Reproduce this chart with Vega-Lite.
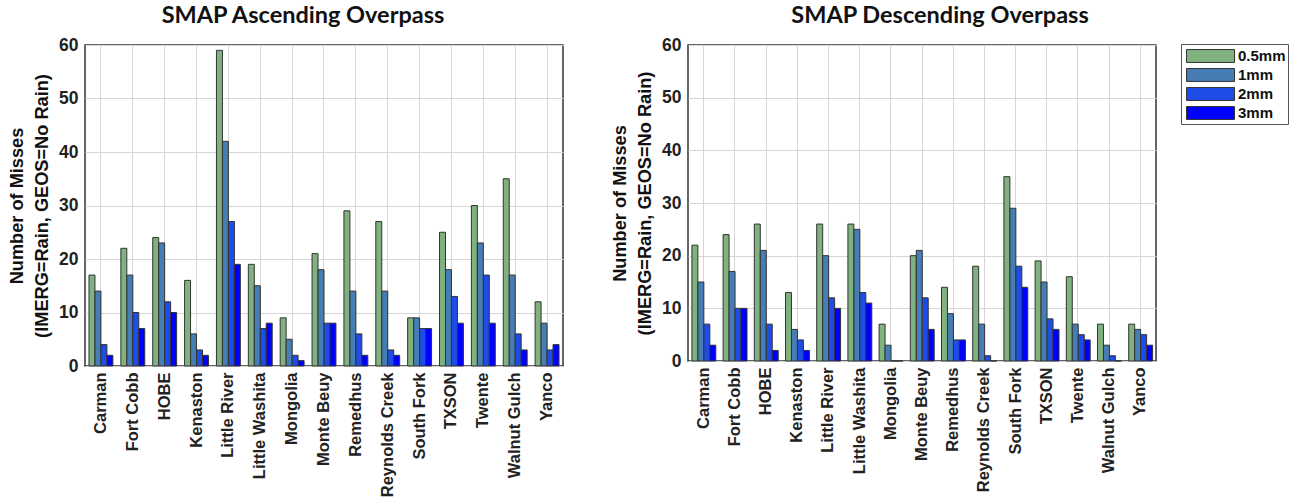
{
  "$schema": "https://vega.github.io/schema/vega-lite/v6.json",
  "background": "white",
  "padding": {"left": 6, "top": 2, "right": 2, "bottom": 0},
  "config": {
    "view": {"stroke": "#333", "strokeWidth": 1.5},
    "axis": {"labelFont": "Liberation Sans", "labelFontWeight": "bold", "labelColor": "#222", "titleFont": "Liberation Sans", "titleFontWeight": "bold", "titleColor": "#111", "gridColor": "#d6d6d6", "gridWidth": 1, "domain": false, "ticks": false},
    "title": {"font": "Lato", "fontWeight": "bold", "fontSize": 23.5, "color": "#111", "offset": 9}
  },
  "data": {"values": [
    {"panel": "A", "site": "Carman", "threshold": "0.5mm", "count": 17},
    {"panel": "A", "site": "Carman", "threshold": "1mm", "count": 14},
    {"panel": "A", "site": "Carman", "threshold": "2mm", "count": 4},
    {"panel": "A", "site": "Carman", "threshold": "3mm", "count": 2},
    {"panel": "A", "site": "Fort Cobb", "threshold": "0.5mm", "count": 22},
    {"panel": "A", "site": "Fort Cobb", "threshold": "1mm", "count": 17},
    {"panel": "A", "site": "Fort Cobb", "threshold": "2mm", "count": 10},
    {"panel": "A", "site": "Fort Cobb", "threshold": "3mm", "count": 7},
    {"panel": "A", "site": "HOBE", "threshold": "0.5mm", "count": 24},
    {"panel": "A", "site": "HOBE", "threshold": "1mm", "count": 23},
    {"panel": "A", "site": "HOBE", "threshold": "2mm", "count": 12},
    {"panel": "A", "site": "HOBE", "threshold": "3mm", "count": 10},
    {"panel": "A", "site": "Kenaston", "threshold": "0.5mm", "count": 16},
    {"panel": "A", "site": "Kenaston", "threshold": "1mm", "count": 6},
    {"panel": "A", "site": "Kenaston", "threshold": "2mm", "count": 3},
    {"panel": "A", "site": "Kenaston", "threshold": "3mm", "count": 2},
    {"panel": "A", "site": "Little River", "threshold": "0.5mm", "count": 59},
    {"panel": "A", "site": "Little River", "threshold": "1mm", "count": 42},
    {"panel": "A", "site": "Little River", "threshold": "2mm", "count": 27},
    {"panel": "A", "site": "Little River", "threshold": "3mm", "count": 19},
    {"panel": "A", "site": "Little Washita", "threshold": "0.5mm", "count": 19},
    {"panel": "A", "site": "Little Washita", "threshold": "1mm", "count": 15},
    {"panel": "A", "site": "Little Washita", "threshold": "2mm", "count": 7},
    {"panel": "A", "site": "Little Washita", "threshold": "3mm", "count": 8},
    {"panel": "A", "site": "Mongolia", "threshold": "0.5mm", "count": 9},
    {"panel": "A", "site": "Mongolia", "threshold": "1mm", "count": 5},
    {"panel": "A", "site": "Mongolia", "threshold": "2mm", "count": 2},
    {"panel": "A", "site": "Mongolia", "threshold": "3mm", "count": 1},
    {"panel": "A", "site": "Monte Beuy", "threshold": "0.5mm", "count": 21},
    {"panel": "A", "site": "Monte Beuy", "threshold": "1mm", "count": 18},
    {"panel": "A", "site": "Monte Beuy", "threshold": "2mm", "count": 8},
    {"panel": "A", "site": "Monte Beuy", "threshold": "3mm", "count": 8},
    {"panel": "A", "site": "Remedhus", "threshold": "0.5mm", "count": 29},
    {"panel": "A", "site": "Remedhus", "threshold": "1mm", "count": 14},
    {"panel": "A", "site": "Remedhus", "threshold": "2mm", "count": 6},
    {"panel": "A", "site": "Remedhus", "threshold": "3mm", "count": 2},
    {"panel": "A", "site": "Reynolds Creek", "threshold": "0.5mm", "count": 27},
    {"panel": "A", "site": "Reynolds Creek", "threshold": "1mm", "count": 14},
    {"panel": "A", "site": "Reynolds Creek", "threshold": "2mm", "count": 3},
    {"panel": "A", "site": "Reynolds Creek", "threshold": "3mm", "count": 2},
    {"panel": "A", "site": "South Fork", "threshold": "0.5mm", "count": 9},
    {"panel": "A", "site": "South Fork", "threshold": "1mm", "count": 9},
    {"panel": "A", "site": "South Fork", "threshold": "2mm", "count": 7},
    {"panel": "A", "site": "South Fork", "threshold": "3mm", "count": 7},
    {"panel": "A", "site": "TXSON", "threshold": "0.5mm", "count": 25},
    {"panel": "A", "site": "TXSON", "threshold": "1mm", "count": 18},
    {"panel": "A", "site": "TXSON", "threshold": "2mm", "count": 13},
    {"panel": "A", "site": "TXSON", "threshold": "3mm", "count": 8},
    {"panel": "A", "site": "Twente", "threshold": "0.5mm", "count": 30},
    {"panel": "A", "site": "Twente", "threshold": "1mm", "count": 23},
    {"panel": "A", "site": "Twente", "threshold": "2mm", "count": 17},
    {"panel": "A", "site": "Twente", "threshold": "3mm", "count": 8},
    {"panel": "A", "site": "Walnut Gulch", "threshold": "0.5mm", "count": 35},
    {"panel": "A", "site": "Walnut Gulch", "threshold": "1mm", "count": 17},
    {"panel": "A", "site": "Walnut Gulch", "threshold": "2mm", "count": 6},
    {"panel": "A", "site": "Walnut Gulch", "threshold": "3mm", "count": 3},
    {"panel": "A", "site": "Yanco", "threshold": "0.5mm", "count": 12},
    {"panel": "A", "site": "Yanco", "threshold": "1mm", "count": 8},
    {"panel": "A", "site": "Yanco", "threshold": "2mm", "count": 3},
    {"panel": "A", "site": "Yanco", "threshold": "3mm", "count": 4},
    {"panel": "D", "site": "Carman", "threshold": "0.5mm", "count": 22},
    {"panel": "D", "site": "Carman", "threshold": "1mm", "count": 15},
    {"panel": "D", "site": "Carman", "threshold": "2mm", "count": 7},
    {"panel": "D", "site": "Carman", "threshold": "3mm", "count": 3},
    {"panel": "D", "site": "Fort Cobb", "threshold": "0.5mm", "count": 24},
    {"panel": "D", "site": "Fort Cobb", "threshold": "1mm", "count": 17},
    {"panel": "D", "site": "Fort Cobb", "threshold": "2mm", "count": 10},
    {"panel": "D", "site": "Fort Cobb", "threshold": "3mm", "count": 10},
    {"panel": "D", "site": "HOBE", "threshold": "0.5mm", "count": 26},
    {"panel": "D", "site": "HOBE", "threshold": "1mm", "count": 21},
    {"panel": "D", "site": "HOBE", "threshold": "2mm", "count": 7},
    {"panel": "D", "site": "HOBE", "threshold": "3mm", "count": 2},
    {"panel": "D", "site": "Kenaston", "threshold": "0.5mm", "count": 13},
    {"panel": "D", "site": "Kenaston", "threshold": "1mm", "count": 6},
    {"panel": "D", "site": "Kenaston", "threshold": "2mm", "count": 4},
    {"panel": "D", "site": "Kenaston", "threshold": "3mm", "count": 2},
    {"panel": "D", "site": "Little River", "threshold": "0.5mm", "count": 26},
    {"panel": "D", "site": "Little River", "threshold": "1mm", "count": 20},
    {"panel": "D", "site": "Little River", "threshold": "2mm", "count": 12},
    {"panel": "D", "site": "Little River", "threshold": "3mm", "count": 10},
    {"panel": "D", "site": "Little Washita", "threshold": "0.5mm", "count": 26},
    {"panel": "D", "site": "Little Washita", "threshold": "1mm", "count": 25},
    {"panel": "D", "site": "Little Washita", "threshold": "2mm", "count": 13},
    {"panel": "D", "site": "Little Washita", "threshold": "3mm", "count": 11},
    {"panel": "D", "site": "Mongolia", "threshold": "0.5mm", "count": 7},
    {"panel": "D", "site": "Mongolia", "threshold": "1mm", "count": 3},
    {"panel": "D", "site": "Mongolia", "threshold": "2mm", "count": 0},
    {"panel": "D", "site": "Mongolia", "threshold": "3mm", "count": 0},
    {"panel": "D", "site": "Monte Beuy", "threshold": "0.5mm", "count": 20},
    {"panel": "D", "site": "Monte Beuy", "threshold": "1mm", "count": 21},
    {"panel": "D", "site": "Monte Beuy", "threshold": "2mm", "count": 12},
    {"panel": "D", "site": "Monte Beuy", "threshold": "3mm", "count": 6},
    {"panel": "D", "site": "Remedhus", "threshold": "0.5mm", "count": 14},
    {"panel": "D", "site": "Remedhus", "threshold": "1mm", "count": 9},
    {"panel": "D", "site": "Remedhus", "threshold": "2mm", "count": 4},
    {"panel": "D", "site": "Remedhus", "threshold": "3mm", "count": 4},
    {"panel": "D", "site": "Reynolds Creek", "threshold": "0.5mm", "count": 18},
    {"panel": "D", "site": "Reynolds Creek", "threshold": "1mm", "count": 7},
    {"panel": "D", "site": "Reynolds Creek", "threshold": "2mm", "count": 1},
    {"panel": "D", "site": "Reynolds Creek", "threshold": "3mm", "count": 0},
    {"panel": "D", "site": "South Fork", "threshold": "0.5mm", "count": 35},
    {"panel": "D", "site": "South Fork", "threshold": "1mm", "count": 29},
    {"panel": "D", "site": "South Fork", "threshold": "2mm", "count": 18},
    {"panel": "D", "site": "South Fork", "threshold": "3mm", "count": 14},
    {"panel": "D", "site": "TXSON", "threshold": "0.5mm", "count": 19},
    {"panel": "D", "site": "TXSON", "threshold": "1mm", "count": 15},
    {"panel": "D", "site": "TXSON", "threshold": "2mm", "count": 8},
    {"panel": "D", "site": "TXSON", "threshold": "3mm", "count": 6},
    {"panel": "D", "site": "Twente", "threshold": "0.5mm", "count": 16},
    {"panel": "D", "site": "Twente", "threshold": "1mm", "count": 7},
    {"panel": "D", "site": "Twente", "threshold": "2mm", "count": 5},
    {"panel": "D", "site": "Twente", "threshold": "3mm", "count": 4},
    {"panel": "D", "site": "Walnut Gulch", "threshold": "0.5mm", "count": 7},
    {"panel": "D", "site": "Walnut Gulch", "threshold": "1mm", "count": 3},
    {"panel": "D", "site": "Walnut Gulch", "threshold": "2mm", "count": 1},
    {"panel": "D", "site": "Walnut Gulch", "threshold": "3mm", "count": 0},
    {"panel": "D", "site": "Yanco", "threshold": "0.5mm", "count": 7},
    {"panel": "D", "site": "Yanco", "threshold": "1mm", "count": 6},
    {"panel": "D", "site": "Yanco", "threshold": "2mm", "count": 5},
    {"panel": "D", "site": "Yanco", "threshold": "3mm", "count": 3}
  ]},
  "spacing": 45,
  "resolve": {"scale": {"color": "independent"}, "legend": {"color": "independent"}},
  "hconcat": [
    {
      "title": {"text": "SMAP Ascending Overpass", "dx": -21},
      "width": 478,
      "height": 321,
      "transform": [{"filter": "datum.panel === 'A'"}],
      "mark": {"type": "bar", "stroke": "#333", "strokeWidth": 1},
      "encoding": {
        "x": {"field": "site", "type": "nominal", "sort": null, "scale": {"paddingInner": 0.25, "paddingOuter": 0.125},
          "axis": {"title": null, "labelAngle": -90, "labelAlign": "right", "labelBaseline": "middle", "labelFontSize": 16.5, "labelPadding": 6, "labelOverlap": false, "grid": true, "bandPosition": 0.5}},
        "xOffset": {"field": "threshold", "type": "nominal", "sort": ["0.5mm", "1mm", "2mm", "3mm"], "scale": {"paddingInner": 0, "paddingOuter": 0}},
        "y": {"field": "count", "type": "quantitative", "scale": {"domain": [0, 60], "nice": false},
          "axis": {"values": [0, 10, 20, 30, 40, 50, 60], "title": ["Number of Misses", "(IMERG=Rain, GEOS=No Rain)"], "titleFontSize": 18.2, "titleLineHeight": 25, "labelFontSize": 17.5, "labelPadding": 7, "titlePadding": 7, "grid": true}},
        "color": {"field": "threshold", "type": "nominal", "scale": {"domain": ["0.5mm", "1mm", "2mm", "3mm"], "range": ["#7fb27f", "#467db4", "#1d4de6", "#0000ff"]}, "legend": null}
      }
    },
    {
      "title": {"text": "SMAP Descending Overpass", "dx": 18},
      "width": 468,
      "height": 316,
      "transform": [{"filter": "datum.panel === 'D'"}],
      "mark": {"type": "bar", "stroke": "#333", "strokeWidth": 1},
      "encoding": {
        "x": {"field": "site", "type": "nominal", "sort": null, "scale": {"paddingInner": 0.25, "paddingOuter": 0.125},
          "axis": {"title": null, "labelAngle": -90, "labelAlign": "right", "labelBaseline": "middle", "labelFontSize": 16.5, "labelPadding": 6, "labelOverlap": false, "grid": true, "bandPosition": 0.5}},
        "xOffset": {"field": "threshold", "type": "nominal", "sort": ["0.5mm", "1mm", "2mm", "3mm"], "scale": {"paddingInner": 0, "paddingOuter": 0}},
        "y": {"field": "count", "type": "quantitative", "scale": {"domain": [0, 60], "nice": false},
          "axis": {"values": [0, 10, 20, 30, 40, 50, 60], "title": ["Number of Misses", "(IMERG=Rain, GEOS=No Rain)"], "titleFontSize": 18.2, "titleLineHeight": 25, "labelFontSize": 17.5, "labelPadding": 7, "titlePadding": 7, "grid": true}},
        "color": {"field": "threshold", "type": "nominal", "scale": {"domain": ["0.5mm", "1mm", "2mm", "3mm"], "range": ["#7fb27f", "#467db4", "#1d4de6", "#0000ff"]},
          "legend": {"orient": "none", "legendX": 493, "legendY": -1, "title": null, "symbolType": "M-0.68,-0.68H4.37V0.68H-0.68Z", "symbolSize": 361, "symbolStrokeColor": "#333", "symbolStrokeWidth": 1, "symbolOpacity": 1, "labelFont": "Liberation Sans", "labelFontWeight": "bold", "labelFontSize": 15, "labelColor": "#111", "labelOffset": 35, "rowPadding": 0, "padding": 2, "strokeColor": "#555", "fillColor": "white"}}
      }
    }
  ]
}
